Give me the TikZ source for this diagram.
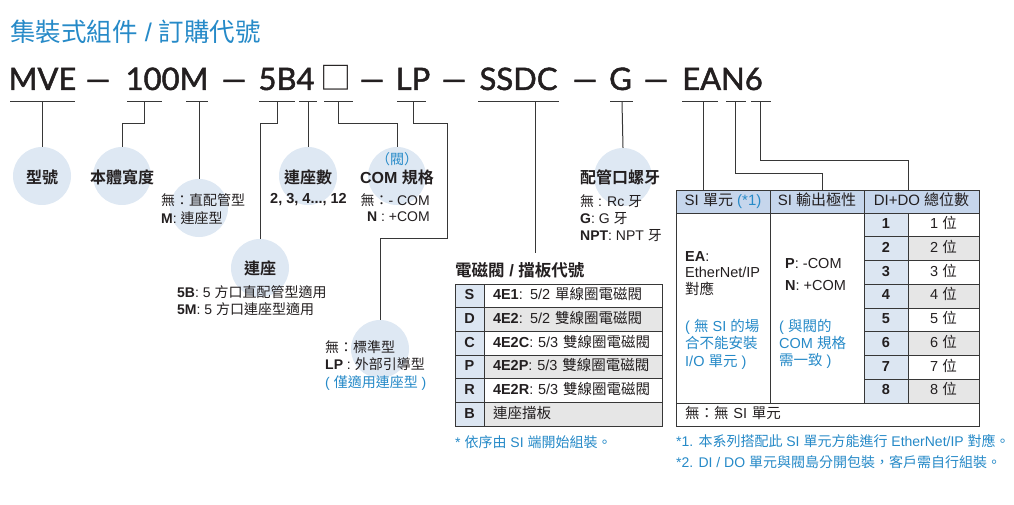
\documentclass[tikz,border=0pt]{standalone}
\usepackage{fontspec}
\setmainfont{Liberation Sans}
\newfontfamily\cjkfont{Noto Sans CJK TC}[BoldFont={Noto Sans CJK TC Bold}]
\newfontfamily\codefont{Lato}[FakeBold=1.6]

% CJK characters switch to the CJK family by themselves
\XeTeXinterchartokenstate=1
\chardef\cjkclass=10
\newcount\cjkcode
\def\setcjkrange#1#2{\cjkcode=#1 \loop\XeTeXcharclass\cjkcode=\cjkclass \advance\cjkcode by 1 \ifnum\cjkcode<#2 \repeat}
\setcjkrange{"3000}{"3040}
\setcjkrange{"4E00}{"A000}
\setcjkrange{"FF00}{"FFF0}
\XeTeXcharclass"25A1=\cjkclass
\XeTeXinterchartoks 0 \cjkclass = {\begingroup\cjkfont}
\XeTeXinterchartoks 4095 \cjkclass = {\begingroup\cjkfont}
\XeTeXinterchartoks \cjkclass 0 = {\endgroup}
\XeTeXinterchartoks \cjkclass 4095 = {\endgroup}

\definecolor{linegray}{RGB}{55,55,55}
\definecolor{textgray}{RGB}{35,31,32}
\definecolor{titleblue}{RGB}{38,138,200}
\definecolor{circfill}{RGB}{222,232,243}
\definecolor{headblue}{RGB}{198,214,236}
\definecolor{cellblue}{RGB}{220,230,242}
\definecolor{rowgray}{RGB}{230,230,230}

\tikzset{
  partcirc/.style={circle, fill=circfill, minimum size=58pt, inner sep=0pt},
  codeseg/.style={font=\codefont\fontsize{31}{31}\selectfont, inner sep=0pt, anchor=base, text=textgray},
  leadline/.style={draw=linegray, line width=1pt},
  partname/.style={font=\bfseries\fontsize{16}{18}\selectfont, inner sep=0pt, text=textgray},
  optext/.style={font=\fontsize{14}{17}\selectfont, align=left, inner sep=0pt, anchor=base west, text=textgray},
  tcell/.style={draw=linegray, line width=0.9pt, inner sep=0pt, outer sep=0pt, text height=10.5pt, text depth=3pt,
    font=\fontsize{14.5}{16}\selectfont, text=textgray},
}

\begin{document}
\begin{tikzpicture}[x=1pt, y=-1pt]
\useasboundingbox[fill=white] (0,0) rectangle (1014,505);

% title
\node[anchor=west, text=titleblue, font=\fontsize{25.5}{28}\selectfont, inner sep=0pt] (title) at (10,32) {集裝式組件 / 訂購代號};

% order code
\foreach \x/\seg/\n in {42.5/MVE/mve, 98/—/d1, 167/100M/wid, 234/—/d2, 286.5/5B4/mani, 336/□/com, 372/—/d3,
    413/LP/lp, 454/—/d4, 518.5/SSDC/ssdc, 585/—/d5, 620.5/G/thr, 656/—/d6, 722.5/EAN6/si}
  \node[codeseg] (s\n) at (\x,90) {\seg};

\foreach \a/\b/\t/\n in {10/75/42/MVE, 127/162/144/Wid, 186/208/199/Base, 259/295/277/Mani, 299/317/308/Stn,
    324/353/338/Com, 397/426/413/LP, 478/559/535/SSDC, 610/633/622/Thr, 682/718/703/EA, 726/746/735/Pol, 751/771/760/DI}{
  \draw[leadline] (\a,102) -- (\b,102);
  \coordinate (u\n) at (\t,102);
}

% circles
\node[partcirc] (cMVE) at (42,176) {};
\node[partcirc] (cWid) at (122,176) {};
\node[partcirc] (cBase) at (199,208) {};
\node[partcirc] (cMani) at (260,268) {};
\node[partcirc] (cStn) at (308,176) {};
\node[partcirc] (cCom) at (397,176) {};
\node[partcirc] (cLP) at (380,349) {};
\node[partcirc] (cThr) at (623,177) {};

\coordinate (kLP) at (447,238);
\coordinate (kSSDC) at (535,253);

\draw[leadline] (uMVE) -- (cMVE.north);
\draw[leadline] (uWid) -- ++(0,22) -| (cWid.north);
\draw[leadline] (uBase) -- (cBase.north);
\draw[leadline] (uMani) -- ++(0,22) -| (cMani.north);
\draw[leadline] (uStn) -- (cStn.north);
\draw[leadline] (uCom) -- ++(0,22) -| (cCom.north);
\draw[leadline] (uLP) -- ++(0,22) -| (kLP) -| (cLP.north);
\draw[leadline] (uSSDC) -- (kSSDC);
\draw[leadline] (uThr) -- (cThr.north);

% labels (multi-line texts sit on the baseline of their last line)
\node[partname] (lMVE) at (42,177) {型號};
\node[partname] (lWid) at (122,177) {本體寬度};
\node[optext, font=\fontsize{14}{18}\selectfont] (lBase) at (161,223) {無：直配管型\\\textbf{M}: 連座型};
\node[partname] (lMani) at (260,268) {連座};
\node[optext] (oMani) at (177,314) {\textbf{5B}: 5 方口直配管型適用\\\textbf{5M}: 5 方口連座型適用};
\node[partname] (lStn) at (308,177) {連座數};
\node[font=\bfseries\fontsize{14.5}{17}\selectfont, inner sep=0pt, text=textgray] (oStn) at (308.5,200) {2, 3, 4..., 12};
\node[font=\fontsize{14}{17}\selectfont, inner sep=0pt, text=titleblue] (hCom) at (397,159) {（閥）};
\node[partname] (lCom) at (397,177) {COM 規格};
\node[optext, font=\fontsize{14}{16}\selectfont, align=right, anchor=base east] (oCom) at (430,221) {無：- COM\\\textbf{N} : +COM};
\node[optext, font=\fontsize{14}{17.5}\selectfont] (oLP) at (325,387) {無：標準型\\\textbf{LP} : 外部引導型\\{\color{titleblue}( 僅適用連座型 )}};
\node[partname, anchor=base west] (lThr) at (580,184) {配管口螺牙};
\node[optext, font=\fontsize{14}{16.5}\selectfont] (oThr) at (580,240) {無 : Rc 牙\\\textbf{G}: G 牙\\\textbf{NPT}: NPT 牙};

% valve table
\node[partname, anchor=base west, font=\bfseries\fontsize{16.5}{18}\selectfont] (vtitle) at (455,276) {電磁閥 / 擋板代號};
\foreach \code/\desc [count=\i] in {S/{\textbf{4E1}: 5/2 單線圈電磁閥}, D/{\textbf{4E2}: 5/2 雙線圈電磁閥},
    C/{\textbf{4E2C}: 5/3 雙線圈電磁閥}, P/{\textbf{4E2P}: 5/3 雙線圈電磁閥}, R/{\textbf{4E2R}: 5/3 雙線圈電磁閥}, B/{連座擋板}}{
  \ifodd\i\relax \def\rowfill{white}\else \def\rowfill{rowgray}\fi
  \node[tcell, fill=cellblue, minimum width=29pt, minimum height=23.7pt, font=\bfseries\fontsize{14.5}{16}\selectfont]
    (vl\i) at (469.5,{284+23.7*(\i-0.5)}) {\code};
  \node[tcell, fill=\rowfill, minimum height=23.7pt, text width=160pt, inner xsep=9pt, align=left, anchor=west]
    (vd\i) at (vl\i.east) {\mbox{\desc}};
}
\node[optext, text=titleblue] (vnote) at (455,447) {* 依序由 SI 端開始組裝。};

% SI table
\node[tcell, fill=headblue, minimum width=94pt, minimum height=23pt, font=\fontsize{15}{16}\selectfont] (hSI) at (723,201.5) {SI 單元 {\color{titleblue}(*1)}};
\node[tcell, fill=headblue, minimum width=94pt, minimum height=23pt, font=\fontsize{15}{16}\selectfont] (hPol) at (817,201.5) {SI 輸出極性};
\node[tcell, fill=headblue, minimum width=115pt, minimum height=23pt, font=\fontsize{15}{16}\selectfont] (hDI) at (921.5,201.5) {DI+DO 總位數};
\node[tcell, minimum width=94pt, minimum height=190pt] (bSI) at (723,308) {};
\node[tcell, minimum width=94pt, minimum height=190pt] (bPol) at (817,308) {};
\foreach \i in {1,...,8}{
  \ifodd\i\relax \def\rowfill{white}\else \def\rowfill{rowgray}\fi
  \node[tcell, fill=cellblue, minimum width=44pt, minimum height=23.75pt, font=\bfseries\fontsize{14.5}{16}\selectfont]
    (n\i) at (886,{213+23.75*(\i-0.5)}) {\i};
  \node[tcell, fill=\rowfill, minimum width=71pt, minimum height=23.75pt] (v\i) at (943.5,{213+23.75*(\i-0.5)}) {\i\ 位};
}
\node[tcell, minimum height=23pt, text width=285pt, inner xsep=9pt, align=left, anchor=west] (none) at (676,414.5) {\mbox{無：無 SI 單元}};

\node[optext, font=\fontsize{14.5}{16.5}\selectfont] (oEA) at (685,294) {\textbf{EA}:\\EtherNet/IP\\對應};
\node[optext, font=\fontsize{14.5}{17.5}\selectfont, text=titleblue] (nEA) at (685,366) {( 無 SI 的場\\合不能安裝\\I/O 單元 )};
\node[optext, font=\fontsize{14.5}{22}\selectfont] (oPol) at (785,290) {\textbf{P}: -COM\\\textbf{N}: +COM};
\node[optext, font=\fontsize{14.5}{17}\selectfont, text=titleblue] (nPol) at (779,365) {( 與閥的\\COM 規格\\需一致 )};

\draw[leadline] (uEA) -- (uEA |- hSI.north);
\draw[leadline] (uPol) -- ++(0,72) -| ([xshift=5pt]hPol.north);
\draw[leadline] (uDI) -- ++(0,59) -| (hDI.north -| n1.east);

% notes
\node[optext, text=titleblue] (note1) at (676,446) {*1. 本系列搭配此 SI 單元方能進行 EtherNet/IP 對應。};
\node[optext, text=titleblue] (note2) at (676,467) {*2. DI / DO 單元與閥島分開包裝，客戶需自行組裝。};
\end{tikzpicture}
\end{document}
